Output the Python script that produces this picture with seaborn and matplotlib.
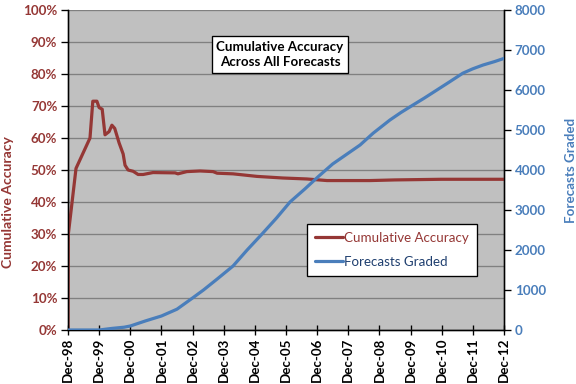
import matplotlib
matplotlib.use("Agg")
import matplotlib.pyplot as plt
from matplotlib.ticker import PercentFormatter, MultipleLocator
import seaborn as sns
import pandas as pd

# ---- data ----
acc_dates = ["1998-12-01", "1998-12-05", "1999-01-18", "1999-03-05", "1999-08-16",
             "1999-09-18", "1999-11-05", "1999-12-01", "2000-01-06", "2000-02-08",
             "2000-03-27", "2000-04-29", "2000-06-01", "2000-07-22", "2000-09-08",
             "2000-09-30", "2000-11-05", "2001-01-03", "2001-03-02", "2001-04-30",
             "2001-08-24", "2002-05-10", "2002-06-12", "2002-09-25", "2003-02-27",
             "2003-07-29", "2003-09-15", "2004-03-20", "2004-12-26", "2005-10-25",
             "2006-08-01", "2007-03-27", "2008-08-12", "2009-06-01", "2010-12-01",
             "2012-12-01"]
acc_values = [0.0, 30.0, 40.0, 50.5, 60.0,
              71.5, 71.5, 69.5, 69.0, 61.0,
              62.0, 64.0, 63.0, 58.5, 55.0,
              51.5, 50.0, 49.6, 48.6, 48.6,
              49.2, 49.1, 48.8, 49.5, 49.7,
              49.5, 49.0, 48.8, 48.0, 47.5,
              47.2, 46.7, 46.7, 46.9, 47.1,
              47.1]

grd_dates = ["1998-12-01", "1999-12-01", "2000-05-01", "2000-09-20", "2000-12-01",
             "2001-06-01", "2001-12-01", "2002-06-01", "2002-12-01", "2003-04-08",
             "2003-09-19", "2004-03-20", "2004-09-01", "2005-02-23", "2005-08-12",
             "2006-01-17", "2006-07-07", "2006-12-12", "2007-06-01", "2007-12-01",
             "2008-04-18", "2008-09-18", "2009-04-03", "2009-08-12", "2009-12-30",
             "2010-05-13", "2010-10-06", "2011-03-01", "2011-08-06", "2011-12-01",
             "2012-03-31", "2012-08-12", "2012-12-01"]
grd_values = [0, 0, 40, 70, 100,
              230, 350, 520, 800, 1000,
              1280, 1600, 2000, 2400, 2800,
              3200, 3520, 3830, 4150, 4420,
              4625, 4920, 5250, 5440, 5625,
              5800, 6000, 6200, 6420, 6530,
              6625, 6710, 6790]

tick_years = list(range(1998, 2013))
tick_labels = [f"Dec-{y % 100:02d}" for y in tick_years]

title_text = "Cumulative Accuracy\nAcross All Forecasts"
left_label = "Cumulative Accuracy"
right_label = "Forecasts Graded"

# ---- style ----
sns.set_style("white")
plt.rcParams["font.family"] = ["Lato", "DejaVu Sans"]

RED = "#953735"
BLUE = "#4A7EBB"
NAVY = "#1F3F6F"

acc_df = pd.DataFrame({"date": pd.to_datetime(acc_dates), "acc": [v / 100 for v in acc_values]})
grd_df = pd.DataFrame({"date": pd.to_datetime(grd_dates), "graded": grd_values})

fig = plt.figure(figsize=(6, 4), dpi=96)
ax = fig.add_axes([68 / 576, 54 / 384, 436 / 576, 320 / 384])
ax.set_facecolor("#C0C0C0")
ax2 = ax.twinx()

sns.lineplot(data=acc_df, x="date", y="acc", ax=ax, color=RED, lw=2.4,
             label="Cumulative Accuracy", legend=False, zorder=3)
sns.lineplot(data=grd_df, x="date", y="graded", ax=ax2, color=BLUE, lw=2.4,
             label="Forecasts Graded", legend=False, zorder=3)

ax.set_xlim(pd.Timestamp("1998-12-01"), pd.Timestamp("2012-12-01"))
ax.set_ylim(0, 1)
ax2.set_ylim(0, 8000)

ax.yaxis.set_major_locator(MultipleLocator(0.1))
ax.yaxis.set_major_formatter(PercentFormatter(1.0, decimals=0))
ax2.yaxis.set_major_locator(MultipleLocator(1000))

ax.set_xticks([pd.Timestamp(f"{y}-12-01") for y in tick_years])
ax.set_xticklabels(tick_labels, rotation=90, fontsize=10, fontweight="bold", color="black")

ax.grid(axis="y", color="#808080", lw=1)
ax.grid(axis="x", visible=False)
ax.set_axisbelow(True)

for a in (ax, ax2):
    for s in a.spines.values():
        s.set_color("black")
        s.set_linewidth(1)
    a.spines["top"].set_visible(False)

ax.tick_params(axis="y", direction="out", length=5, width=1, color="black",
               labelsize=10, labelcolor=RED, left=True, pad=3)
ax.tick_params(axis="x", direction="inout", length=7, width=1, color="black", bottom=True, pad=2)
ax2.tick_params(axis="y", direction="out", length=5, width=1, color="black",
                labelsize=10, labelcolor=BLUE, right=True, pad=3)
for lbl in ax.get_yticklabels():
    lbl.set_fontweight("bold")
for lbl in ax2.get_yticklabels():
    lbl.set_fontweight("bold")

ax.set_xlabel("")
ax.set_ylabel(left_label, color=RED, fontsize=10.5, fontweight="bold")
ax.yaxis.set_label_coords(-0.123, 0.40)
ax2.set_ylabel(right_label, color=BLUE, fontsize=10, fontweight="bold")
ax2.yaxis.set_label_coords(1.14, 0.50)

ax.text(0.486, 0.861, title_text, transform=ax.transAxes, ha="center", va="center",
        fontsize=10, fontweight="bold", color="black", linespacing=1.3, zorder=5,
        bbox=dict(boxstyle="square,pad=0.35", fc="white", ec="black", lw=1))

h1, l1 = ax.get_legend_handles_labels()
h2, l2 = ax2.get_legend_handles_labels()
leg = ax2.legend(h1 + h2, l1 + l2, loc="upper left", bbox_to_anchor=(0.548, 0.331),
                 borderaxespad=0, frameon=True, fancybox=False, edgecolor="black",
                 framealpha=1, fontsize=10, handlelength=2.1, handletextpad=0.1,
                 labelspacing=0.9, borderpad=0.6)
leg.get_frame().set_linewidth(1)
for txt, c in zip(leg.get_texts(), [RED, NAVY]):
    txt.set_color(c)

fig.savefig("out.png", dpi=96, facecolor="white")
